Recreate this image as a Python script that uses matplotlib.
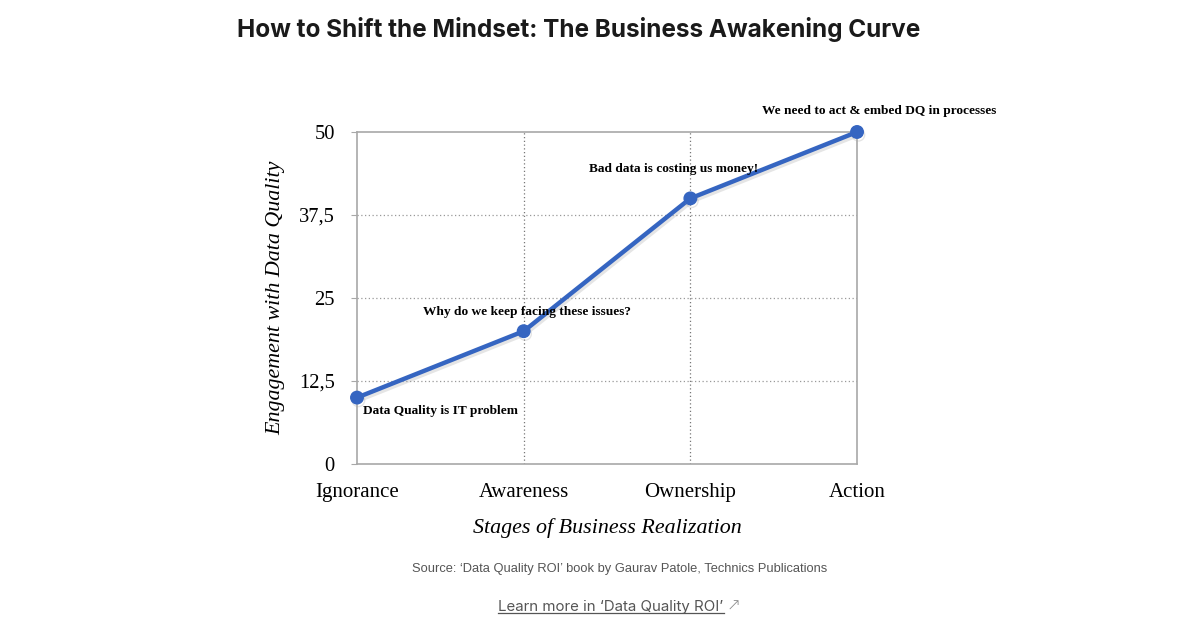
import matplotlib.pyplot as plt
import matplotlib.patheffects as pe

# data
stages = ['Ignorance', 'Awareness', 'Ownership', 'Action']
engagement = [10, 20, 40, 50]
y_ticks = [0, 12.5, 25, 37.5, 50]
y_tick_labels = ['0', '12,5', '25', '37,5', '50']
notes = ['Data Quality is IT problem',
         'Why do we keep facing these issues?',
         'Bad data is costing us money!',
         'We need to act & embed DQ in processes']
note_x = [0.50, 1.02, 1.90, 3.13]
note_y = [8.0, 22.9, 44.4, 53.2]

blue = '#3565c1'
frame = '#a8a8a8'
serif = ['Liberation Serif', 'DejaVu Serif']

fig = plt.figure(figsize=(12, 6.3), dpi=100)
ax = fig.add_axes([0.2975, 0.2635, 0.4167, 0.5270])

x = list(range(len(stages)))
ax.plot(x, engagement, color=blue, lw=3.2, marker='o', ms=9, zorder=3, clip_on=False,
        path_effects=[pe.SimpleLineShadow(offset=(1, -2), shadow_color='#aaaaaa', alpha=0.3),
                      pe.Normal()])

ax.set_xlim(0, 3)
ax.set_ylim(0, 50)
ax.set_xticks(x)
ax.set_xticklabels(stages, fontfamily=serif, fontsize=15)
ax.set_yticks(y_ticks)
ax.set_yticklabels(y_tick_labels, fontfamily=serif, fontsize=14.8)
ax.tick_params(axis='x', length=0, pad=14)
ax.tick_params(axis='y', length=4, color=frame, pad=12)

for v in y_ticks[1:-1]:
    ax.axhline(v, color='#999999', lw=0.9, ls=(0, (1, 2)), zorder=1)
for v in x[1:-1]:
    ax.axvline(v, color='#777777', lw=0.9, ls=(0, (1, 2)), zorder=1)

for s in ax.spines.values():
    s.set_color(frame)
    s.set_linewidth(1.2)

ax.set_xlabel('Stages of Business Realization', fontfamily=serif, style='italic',
              fontsize=15.8, labelpad=11)
ax.set_ylabel('Engagement with Data Quality', fontfamily=serif, style='italic',
              fontsize=15.8, labelpad=10)

for t, nx, ny in zip(notes, note_x, note_y):
    ax.text(nx, ny, t, ha='center', va='center', fontfamily=serif,
            fontweight='bold', fontsize=9.6, clip_on=False, zorder=4)

fig.text(237 / 1200, 1 - 30 / 630, 'How to Shift the Mindset: The Business Awakening Curve',
         ha='left', va='center', fontfamily='Inter', fontweight='bold',
         fontsize=17.5, color='#1a1a1a')
fig.text(620 / 1200, 1 - 569 / 630,
         'Source: \u2018Data Quality ROI\u2019 book by Gaurav Patole, Technics Publications',
         ha='center', va='center', fontfamily='Liberation Sans', fontsize=9.3, color='#555555')
link = fig.text(611 / 1200, 1 - 607 / 630, 'Learn more in \u2018Data Quality ROI\u2019',
                ha='center', va='center', fontfamily='Inter', fontsize=10.8, color='#555555')
fig.text(727 / 1200, 1 - 606 / 630, '\u2197', ha='left', va='center',
         fontfamily='DejaVu Sans', fontsize=12, fontweight='light', color='#888888')

fig.canvas.draw()
bb = link.get_window_extent().transformed(fig.transFigure.inverted())
fig.add_artist(plt.Line2D([bb.x0, bb.x1], [bb.y0 + 0.002, bb.y0 + 0.002],
                          color='#555555', lw=0.9, transform=fig.transFigure))

fig.savefig('out.png', dpi=100, facecolor='white')
